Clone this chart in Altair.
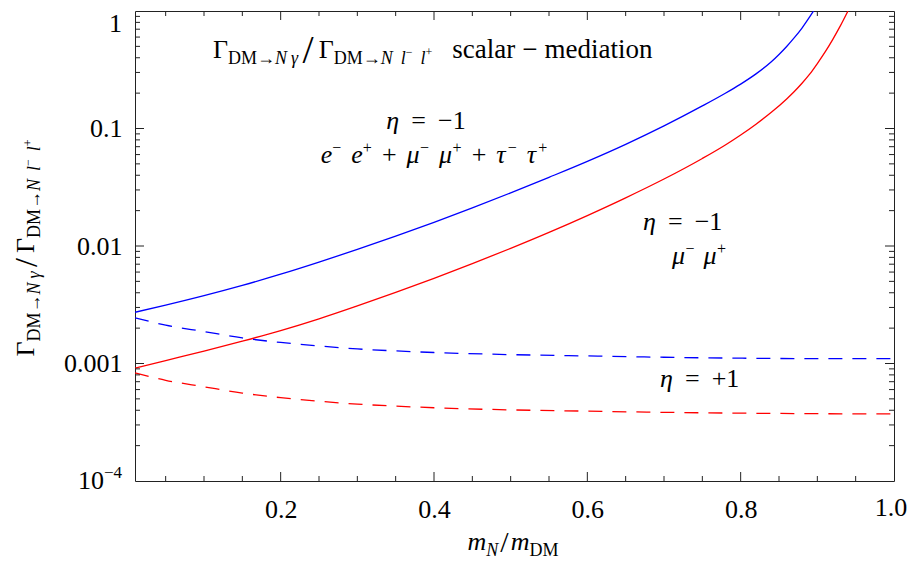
import altair as alt
import pandas as pd

FONT = "Liberation Serif"
FRAME = "#222222"

# ---------------- data ----------------
blue_solid_x = [0.01, 0.05, 0.1, 0.15, 0.2, 0.25, 0.3, 0.35, 0.4, 0.45, 0.5, 0.55, 0.6,
                0.65, 0.7, 0.75, 0.78, 0.8, 0.82, 0.84, 0.85, 0.86, 0.87, 0.88, 0.89, 0.895]
blue_solid_y = [0.00273, 0.00314, 0.00378, 0.00462, 0.00575, 0.00729, 0.00935, 0.01213,
                0.0159, 0.0211, 0.0283, 0.0384, 0.0525, 0.0733, 0.1052, 0.1556, 0.1995,
                0.2388, 0.2917, 0.3698, 0.4266, 0.4989, 0.5929, 0.7161, 0.8913, 1.0]

red_solid_x = [0.01, 0.05, 0.1, 0.15, 0.2, 0.25, 0.3, 0.35, 0.4, 0.45, 0.5, 0.55, 0.6,
               0.65, 0.7, 0.75, 0.78, 0.8, 0.82, 0.84, 0.86, 0.87, 0.88, 0.89, 0.9, 0.91,
               0.92, 0.93, 0.94]
red_solid_y = [0.000912, 0.001059, 0.001274, 0.001549, 0.001905, 0.002399, 0.00309,
               0.004027, 0.005309, 0.007079, 0.00955, 0.01306, 0.01816, 0.0257, 0.03715,
               0.05559, 0.07244, 0.0881, 0.1089, 0.1374, 0.1786, 0.2065, 0.2427, 0.2897,
               0.3573, 0.4467, 0.5715, 0.7464, 1.0]

dash_x = [0.01, 0.05, 0.1, 0.15, 0.2, 0.25, 0.3, 0.35, 0.4, 0.5, 0.6, 0.7, 0.8, 0.9, 1.0]
blue_dash_y = [0.00245, 0.00212, 0.00187, 0.00165, 0.00151, 0.00141, 0.00133, 0.00128,
               0.00124, 0.00119, 0.00116, 0.00113, 0.00111, 0.00110, 0.00110]
red_dash_y = [0.000832, 0.000720, 0.000634, 0.000560, 0.000512, 0.000478, 0.000451,
              0.000434, 0.000420, 0.000403, 0.000393, 0.000384, 0.000378, 0.000374, 0.000372]

x_label_values = [0.2, 0.4, 0.6, 0.8]
y_label_values = [0.1, 0.01, 0.001]
x_major_ticks = [0.2, 0.4, 0.6, 0.8]
x_minor_ticks = [0.05, 0.1, 0.15, 0.25, 0.3, 0.35, 0.45, 0.5, 0.55, 0.65, 0.7, 0.75,
                 0.85, 0.9, 0.95]
y_major_ticks = [0.1, 0.01, 0.001]
y_minor_ticks = [k * 10.0 ** e for e in (-4, -3, -2, -1) for k in range(2, 10)]

# ---------------- geometry ----------------
W, H = 759, 470
OX, OY = 135, 11  # screen position of plot origin

xs = alt.Scale(domain=[0.01, 1.0], nice=False, zero=False)
ys = alt.Scale(type="log", domain=[1e-4, 1], nice=False)

X_AX = alt.Axis(values=x_label_values, format=".1f", ticks=False, domain=False, grid=False,
                labelFont=FONT, labelFontSize=26, labelPadding=15, labelColor="black",
                title=None, labelFlush=False)
Y_AX = alt.Axis(values=y_label_values, format="~g", ticks=False, domain=False, grid=False,
                labelFont=FONT, labelFontSize=26, labelPadding=13, labelColor="black",
                title=None)

ONE = pd.DataFrame({"a": [0]})


def curve(xv, yv, color, dash=None):
    df = pd.DataFrame({"x": xv, "y": yv})
    kw = dict(color=color, strokeWidth=1.3, clip=True, interpolate="monotone")
    if dash:
        kw["strokeDash"] = dash
    return alt.Chart(df).mark_line(**kw).encode(
        x=alt.X("x:Q", scale=xs, axis=X_AX),
        y=alt.Y("y:Q", scale=ys, axis=Y_AX),
    )


def xticks(vals, length):
    df = pd.DataFrame({"x": vals})
    bottom = alt.Chart(df).mark_rule(color=FRAME, strokeWidth=1).encode(
        x=alt.X("x:Q", scale=xs, axis=X_AX), y=alt.value(H), y2=alt.value(H - length))
    top = alt.Chart(df).mark_rule(color=FRAME, strokeWidth=1).encode(
        x=alt.X("x:Q", scale=xs, axis=X_AX), y=alt.value(0), y2=alt.value(length))
    return [bottom, top]


def yticks(vals, length):
    df = pd.DataFrame({"y": vals})
    left = alt.Chart(df).mark_rule(color=FRAME, strokeWidth=1).encode(
        y=alt.Y("y:Q", scale=ys, axis=Y_AX), x=alt.value(0), x2=alt.value(length))
    right = alt.Chart(df).mark_rule(color=FRAME, strokeWidth=1).encode(
        y=alt.Y("y:Q", scale=ys, axis=Y_AX), x=alt.value(W), x2=alt.value(W - length))
    return [left, right]


# ---------------- rich text helper ----------------
WR = {" ": 0.25, "Γ": 0.578, "D": 0.722, "M": 0.889, "N": 0.722, "→": 1.0, "/": 0.278,
      "−": 0.564, "+": 0.564, "=": 0.564, ".": 0.25, "s": 0.389, "c": 0.444, "a": 0.444,
      "l": 0.278, "r": 0.333, "m": 0.778, "e": 0.444, "d": 0.5, "i": 0.278, "t": 0.278,
      "o": 0.5, "n": 0.5}
WI = {"m": 0.722, "N": 0.667, "l": 0.278, "e": 0.444, "γ": 0.42, "η": 0.5, "μ": 0.52,
      "τ": 0.44}


def compose(segs, sx, sy, anchor="left", angle=0):
    ax, ay = sx - OX, sy - OY
    items, off = [], 0.0
    for s in segs:
        if s[0] == "gap":
            off += s[1]
            continue
        t, it, sz, rise = s
        w = sum((WI if it else WR).get(c, 0.5) for c in t) * sz
        items.append((t, it, sz, rise, off))
        off += w
    shift = 0 if anchor == "left" else (-off / 2 if anchor == "center" else -off)
    layers = []
    for t, it, sz, rise, o in items:
        kw = dict(text=t, font=FONT, fontSize=sz, fontStyle="italic" if it else "normal",
                  align="left", baseline="alphabetic", color="black")
        if angle:
            m = alt.Chart(ONE).mark_text(angle=angle, dx=o + shift, dy=-rise, **kw).encode(
                x=alt.value(ax), y=alt.value(ay))
        else:
            m = alt.Chart(ONE).mark_text(**kw).encode(
                x=alt.value(ax + o + shift), y=alt.value(ay - rise))
        layers.append(m)
    return layers


B, S, SS = 26, 18, 12


def ratio(slash_size, slash_rise):
    return [("Γ", False, B, 0), ("DM→", False, S, -6), ("N", True, S, -6), ("gap", 4),
            ("γ", True, S, -6), ("gap", 4), ("/", False, slash_size, slash_rise), ("gap", 5),
            ("Γ", False, B, 0), ("DM→", False, S, -6), ("N", True, S, -6), ("gap", 8),
            ("l", True, S, -6), ("−", False, SS, 2), ("gap", 8),
            ("l", True, S, -6), ("+", False, SS, 2)]


title_segs = ratio(40, -5) + [("gap", 20), ("scalar", False, 27, 0), ("gap", 7),
                              ("−", False, 27, 0), ("gap", 7), ("mediation", False, 27, 0)]
ytitle_segs = ratio(32, -3)

eta_m1 = [("η", True, B, 0), ("gap", 12), ("=", False, B, 0), ("gap", 12), ("−1", False, B, 0)]
eta_p1 = [("η", True, B, 0), ("gap", 12), ("=", False, B, 0), ("gap", 12), ("+1", False, B, 0)]

SUPS, SUPR = 16, 10
G = 10
leptons = [("e", True, B, 0), ("−", False, SUPS, SUPR), ("gap", G),
           ("e", True, B, 0), ("+", False, SUPS, SUPR), ("gap", G),
           ("+", False, B, 0), ("gap", G),
           ("μ", True, B, 0), ("−", False, SUPS, SUPR), ("gap", G),
           ("μ", True, B, 0), ("+", False, SUPS, SUPR), ("gap", G),
           ("+", False, B, 0), ("gap", G),
           ("τ", True, B, 0), ("−", False, SUPS, SUPR), ("gap", G),
           ("τ", True, B, 0), ("+", False, SUPS, SUPR)]
muons = [("μ", True, B, 0), ("−", False, SUPS, SUPR), ("gap", 9),
         ("μ", True, B, 0), ("+", False, SUPS, SUPR)]

xtitle = [("m", True, B, 0), ("N", True, S, -6), ("gap", 2), ("/", False, 30, -2), ("gap", 2),
          ("m", True, B, 0), ("DM", False, S, -6)]

ten_m4 = [("10", False, B, 0), ("−4", False, 17, 11)]
one_label = [("1", False, B, 0)]
x_last_label = [("1.0", False, B, 0)]

texts = []
texts += compose(title_segs, 213, 58)
texts += compose(eta_m1, 426, 129, anchor="center")
texts += compose(leptons, 434, 163, anchor="center")
texts += compose(eta_m1, 643, 230)
texts += compose(muons, 672, 264)
texts += compose(eta_p1, 660, 387)
texts += compose(xtitle, 513, 550, anchor="center")
texts += compose(ytitle_segs, 34, 248, anchor="center", angle=270)
texts += compose(ten_m4, 122, 489, anchor="right")
texts += compose(one_label, 122, 32, anchor="right")
texts += compose(x_last_label, 891, 516, anchor="center")

layers = [
    curve(blue_solid_x, blue_solid_y, "#0000ff"),
    curve(red_solid_x, red_solid_y, "#ff0000"),
    curve(dash_x, blue_dash_y, "#0000ff", dash=[14, 10]),
    curve(dash_x, red_dash_y, "#ff0000", dash=[14, 10]),
]
layers += xticks(x_major_ticks, 9) + xticks(x_minor_ticks, 5)
layers += yticks(y_major_ticks, 9) + yticks(y_minor_ticks, 5)
layers += texts

chart = alt.layer(*layers).properties(
    width=W, height=H,
    autosize=alt.AutoSizeParams(type="none"),
    padding={"left": OX - 8, "top": OY - 8, "right": 13, "bottom": 80},
    background="white",
).configure_view(stroke=FRAME, strokeWidth=1)

chart.save("out.html", embed_options={"renderer": "svg", "actions": False})
